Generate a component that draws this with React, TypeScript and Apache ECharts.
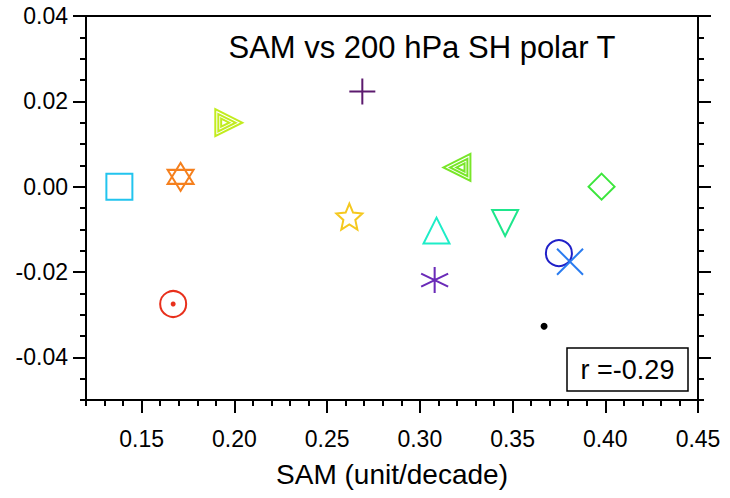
import React, { useEffect, useRef } from "react";
import * as echarts from "echarts";

// ---- data ----
const chartTitle = "SAM vs 200 hPa SH polar T";
const xAxisName = "SAM (unit/decade)";
const corrLabel = "r =-0.29";

const samTrend = [0.138, 0.171, 0.197, 0.167, 0.269, 0.262, 0.32, 0.309, 0.308, 0.346, 0.398, 0.375, 0.381, 0.367];
const polarT = [0.0, 0.0023, 0.015, -0.0275, 0.0223, -0.007, 0.0045, -0.0103, -0.0219, -0.0085, 0.0, -0.0156, -0.0176, -0.0327];
const markerKinds = [
  "square", "hexagram", "triRight3", "circleDot", "plus", "star", "triLeft3",
  "triUp", "asterisk", "triDown", "diamond", "circle", "cross", "dot",
];
const markerColors = [
  "#22C4EE", "#F5801E", "#C2EC1E", "#E8301C", "#5C1A6E", "#F5C81E", "#78E628",
  "#1EEDC8", "#6A2AB8", "#1EE68C", "#3CE63C", "#2020C8", "#2A7CF0", "#000000",
];

const xMajorTicks = [0.15, 0.2, 0.25, 0.3, 0.35, 0.4, 0.45];
const xMinorTicks = [
  0.12, 0.13, 0.14, 0.15, 0.16, 0.17, 0.18, 0.19, 0.2, 0.21, 0.22, 0.23, 0.24, 0.25, 0.26, 0.27,
  0.28, 0.29, 0.3, 0.31, 0.32, 0.33, 0.34, 0.35, 0.36, 0.37, 0.38, 0.39, 0.4, 0.41, 0.42, 0.43, 0.44, 0.45,
];
const yMajorTicks = [-0.04, -0.02, 0, 0.02, 0.04];
const yMinorTicks = [
  -0.05, -0.045, -0.04, -0.035, -0.03, -0.025, -0.02, -0.015, -0.01, -0.005, 0,
  0.005, 0.01, 0.015, 0.02, 0.025, 0.03, 0.035, 0.04,
];

// ---- marker shapes ----
function poly(pts: number[][]) {
  return "M" + pts.map((p) => p[0].toFixed(2) + " " + p[1].toFixed(2)).join(" L") + " Z";
}
function nested(pts: number[][], cx: number, cy: number, scales: number[]) {
  return scales
    .map((s) => poly(pts.map((p) => [cx + (p[0] - cx) * s, cy + (p[1] - cy) * s])))
    .join(" ");
}
function starPts() {
  const pts: number[][] = [];
  for (let k = 0; k < 10; k++) {
    const a = ((-90 + k * 36) * Math.PI) / 180;
    const r = k % 2 === 0 ? 50 : 23;
    pts.push([50 + r * Math.cos(a), 50 + r * Math.sin(a)]);
  }
  return pts;
}
const triR = [[0, 0], [100, 50], [0, 100]];
const triL = [[100, 0], [0, 50], [100, 100]];

const shapeDefs: Record<string, { symbol: string; size: number[]; filled?: boolean }> = {
  square: { symbol: "path://M0 0 L100 0 L100 100 L0 100 Z", size: [26, 26] },
  hexagram: {
    symbol: "path://" + poly([[50, 0], [93.3, 75], [6.7, 75]]) + " " + poly([[50, 100], [93.3, 25], [6.7, 25]]),
    size: [26, 28],
  },
  triRight3: { symbol: "path://" + nested(triR, 31, 50, [1, 0.64, 0.3]), size: [27, 27] },
  triLeft3: { symbol: "path://" + nested(triL, 69, 50, [1, 0.64, 0.3]), size: [27, 27] },
  circleDot: { symbol: "circle", size: [26, 26] },
  plus: { symbol: "path://M50 0 L50 100 M0 50 L100 50", size: [26, 26] },
  star: { symbol: "path://" + poly(starPts()), size: [26, 26] },
  triUp: { symbol: "path://M50 0 L100 100 L0 100 Z", size: [26, 26] },
  triDown: { symbol: "path://M0 0 L100 0 L50 100 Z", size: [26, 26] },
  asterisk: { symbol: "path://M50 0 L50 100 M93.3 25 L6.7 75 M6.7 25 L93.3 75", size: [27, 26] },
  diamond: { symbol: "path://M50 0 L100 50 L50 100 L0 50 Z", size: [26, 26] },
  circle: { symbol: "circle", size: [26, 26] },
  cross: { symbol: "path://M0 0 L100 100 M100 0 L0 100", size: [26, 26] },
  dot: { symbol: "circle", size: [7, 7], filled: true },
};

const FONT = '"Liberation Sans", Arial, Helvetica, sans-serif';

export default function App() {
  const ref = useRef<HTMLDivElement>(null);
  useEffect(() => {
    if (!ref.current) return;
    const chart = echarts.init(ref.current, null, { renderer: "svg" });

    const series: any[] = [];
    samTrend.forEach((x, i) => {
      const def = shapeDefs[markerKinds[i]];
      const c = markerColors[i];
      series.push({
        type: "scatter",
        xAxisIndex: 0,
        yAxisIndex: 0,
        data: [[x, polarT[i]]],
        symbol: def.symbol,
        symbolSize: def.size,
        itemStyle: def.filled
          ? { color: c, opacity: 1 }
          : { color: "rgba(0,0,0,0)", borderColor: c, borderWidth: 2, opacity: 1 },
        silent: true,
        z: 3,
      });
      if (markerKinds[i] === "circleDot") {
        series.push({
          type: "scatter",
          xAxisIndex: 0,
          yAxisIndex: 0,
          data: [[x, polarT[i]]],
          symbol: "circle",
          symbolSize: 5,
          itemStyle: { color: c, opacity: 1 },
          silent: true,
          z: 3,
        });
      }
    });

    const black = { color: "#000", width: 2 };
    const labelStyle = { color: "#000", fontSize: 23, fontFamily: FONT };
    const fmt = (v: number) => v.toFixed(2);

    chart.setOption({
      animation: false,
      grid: {
        left: 86,
        right: 32,
        top: 16,
        bottom: 98,
        show: true,
        borderColor: "#000",
        borderWidth: 2,
        backgroundColor: "transparent",
      },
      xAxis: [
        {
          type: "value",
          min: 0.12,
          max: 0.45,
          position: "bottom",
          splitLine: { show: false },
          axisLine: { show: true, onZero: false, lineStyle: black },
          axisTick: { show: true, inside: false, length: 13, lineStyle: black, customValues: xMajorTicks },
          axisLabel: { ...labelStyle, margin: 27, customValues: xMajorTicks, formatter: fmt },
          name: xAxisName,
          nameLocation: "middle",
          nameGap: 60,
          nameTextStyle: { color: "#000", fontSize: 28, fontFamily: FONT },
        },
        {
          type: "value",
          min: 0.12,
          max: 0.45,
          position: "bottom",
          splitLine: { show: false },
          axisLine: { show: false, onZero: false },
          axisTick: { show: true, inside: false, length: 6, lineStyle: black, customValues: xMinorTicks },
          axisLabel: { show: false },
        },
      ],
      yAxis: [
        {
          type: "value",
          min: -0.05,
          max: 0.04,
          position: "left",
          splitLine: { show: false },
          axisLine: { show: true, onZero: false, lineStyle: black },
          axisTick: { show: true, inside: false, length: 13, lineStyle: black, customValues: yMajorTicks },
          axisLabel: { ...labelStyle, margin: 18, customValues: yMajorTicks, formatter: fmt },
        },
        {
          type: "value",
          min: -0.05,
          max: 0.04,
          position: "left",
          splitLine: { show: false },
          axisLine: { show: false, onZero: false },
          axisTick: { show: true, inside: false, length: 6, lineStyle: black, customValues: yMinorTicks },
          axisLabel: { show: false },
        },
        {
          type: "value",
          min: -0.05,
          max: 0.04,
          position: "right",
          splitLine: { show: false },
          axisLine: { show: true, onZero: false, lineStyle: black },
          axisTick: { show: true, inside: false, length: 13, lineStyle: black, customValues: yMajorTicks },
          axisLabel: { show: false },
        },
        {
          type: "value",
          min: -0.05,
          max: 0.04,
          position: "right",
          splitLine: { show: false },
          axisLine: { show: false, onZero: false },
          axisTick: { show: true, inside: false, length: 6, lineStyle: black, customValues: yMinorTicks },
          axisLabel: { show: false },
        },
      ],
      graphic: [
        {
          type: "text",
          x: 422,
          y: 47,
          z: 10,
          style: {
            text: chartTitle,
            fontSize: 31,
            fontFamily: FONT,
            fill: "#000",
            align: "center",
            verticalAlign: "middle",
          },
        },
        {
          type: "rect",
          z: 10,
          shape: { x: 567, y: 348, width: 121, height: 43 },
          style: { fill: "#fff", stroke: "#000", lineWidth: 1.5 },
        },
        {
          type: "text",
          x: 627.5,
          y: 370,
          z: 11,
          style: {
            text: corrLabel,
            fontSize: 27,
            fontFamily: FONT,
            fill: "#000",
            align: "center",
            verticalAlign: "middle",
          },
        },
      ],
      series,
    });
    return () => chart.dispose();
  }, []);
  return (
    <div
      ref={ref}
      style={{ position: "fixed", left: 0, top: 0, width: 730, height: 498, background: "#fff" }}
    />
  );
}
